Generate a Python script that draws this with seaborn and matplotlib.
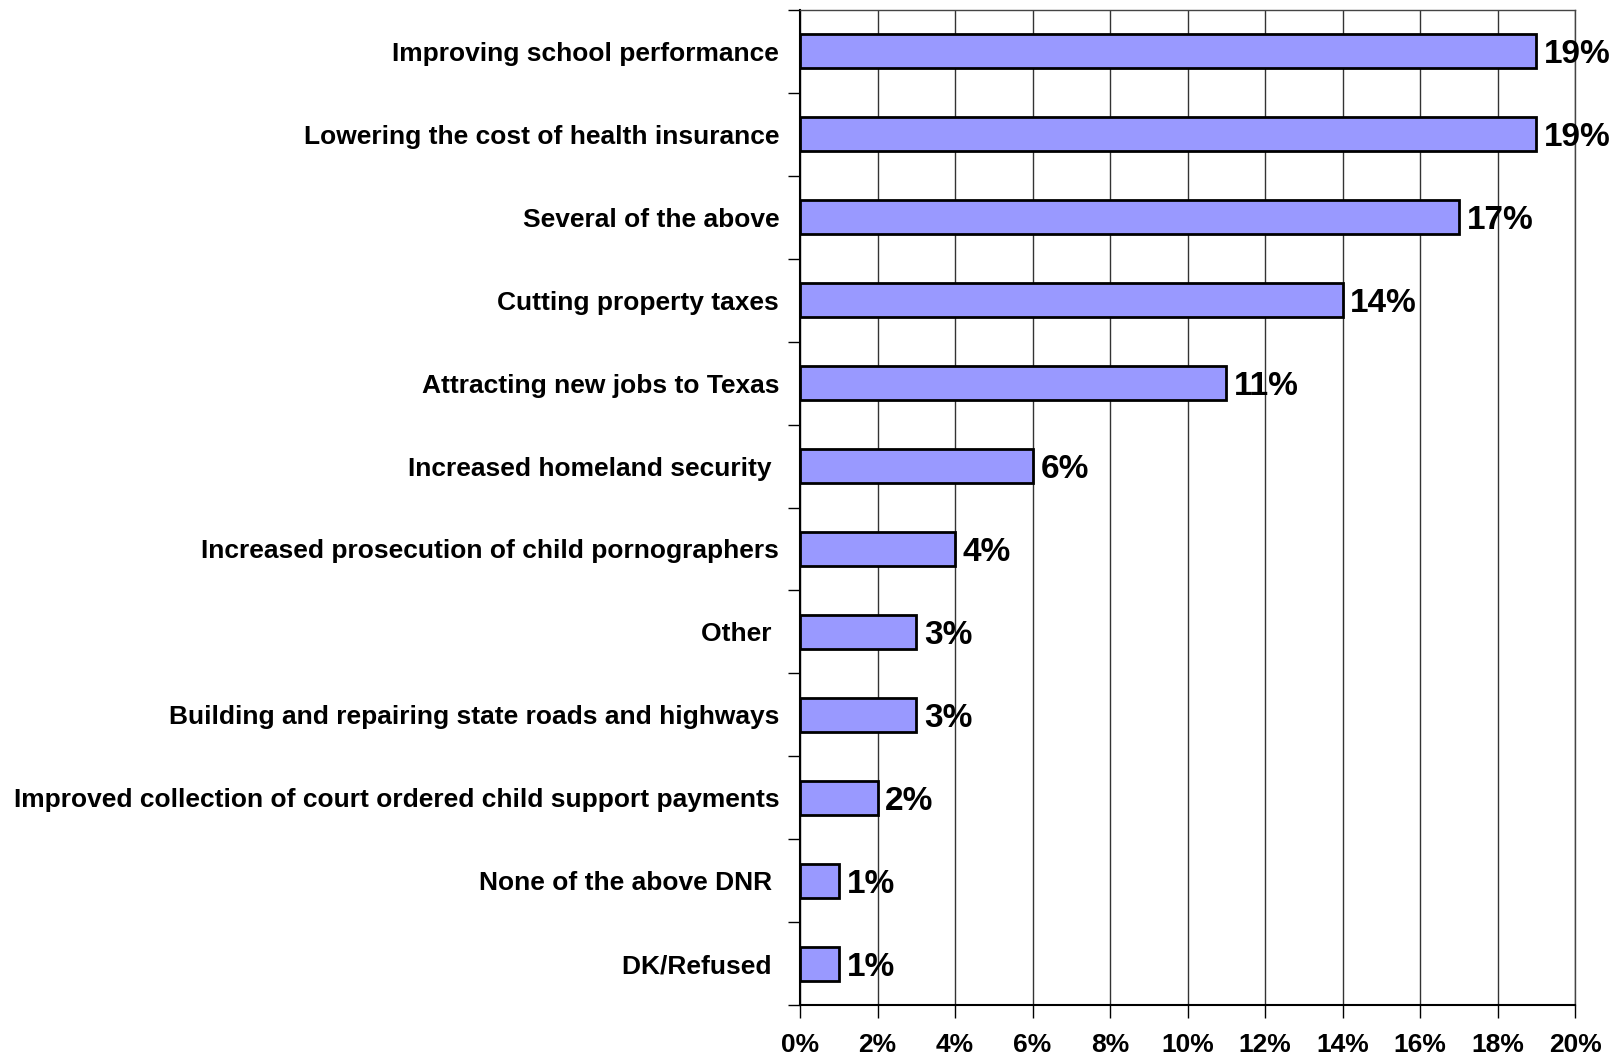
import matplotlib
matplotlib.use("Agg")
import matplotlib.pyplot as plt
import seaborn as sns
import pandas as pd
from matplotlib.ticker import FixedLocator

categories = [
    "Improving school performance",
    "Lowering the cost of health insurance",
    "Several of the above",
    "Cutting property taxes",
    "Attracting new jobs to Texas",
    "Increased homeland security ",
    "Increased prosecution of child pornographers",
    "Other ",
    "Building and repairing state roads and highways",
    "Improved collection of court ordered child support payments",
    "None of the above DNR ",
    "DK/Refused ",
]
values = [19, 19, 17, 14, 11, 6, 4, 3, 3, 2, 1, 1]
x_ticks = [0, 2, 4, 6, 8, 10, 12, 14, 16, 18, 20]

df = pd.DataFrame({"category": categories, "value": values})

sns.set_style("white")
plt.rcParams["font.family"] = ["Liberation Sans", "DejaVu Sans"]
plt.rcParams["text.color"] = "black"
plt.rcParams["xtick.color"] = "black"
plt.rcParams["ytick.color"] = "black"
plt.rcParams["xtick.labelcolor"] = "black"
plt.rcParams["ytick.labelcolor"] = "black"

fig = plt.figure(figsize=(16.17, 10.62), dpi=100)
ax = fig.add_axes([800 / 1617, 1 - 1005 / 1062, 775 / 1617, 995 / 1062])

sns.barplot(data=df, x="value", y="category", orient="h", color="#9999FF",
            saturation=1, edgecolor="black", linewidth=2, width=0.41, ax=ax, zorder=3)

ax.set_xlim(0, 20)
ax.set_ylim(len(categories) - 0.5, -0.5)
ax.xaxis.set_major_locator(FixedLocator(x_ticks))
ax.set_xticklabels([f"{t}%" for t in x_ticks], fontsize=19, fontweight="bold", color="black")
ax.grid(axis="x", color="#333333", linewidth=1, zorder=0)
ax.set_axisbelow(True)

ax.set_yticks(range(len(categories)))
ax.set_yticklabels(categories, fontsize=19, fontweight="bold", color="black")
ax.tick_params(axis="y", length=0, pad=15)
ax.yaxis.set_minor_locator(FixedLocator([i - 0.5 for i in range(len(categories) + 1)]))
ax.tick_params(axis="y", which="minor", length=9, width=1, color="black", left=True)
ax.tick_params(axis="x", which="major", length=9, width=1, color="black", bottom=True, pad=11)

ax.set_xlabel("")
ax.set_ylabel("")

for s in ["left", "bottom"]:
    ax.spines[s].set_color("black")
    ax.spines[s].set_linewidth(1.5)
for s in ["top", "right"]:
    ax.spines[s].set_color("#444444")
    ax.spines[s].set_linewidth(1)

for i, v in enumerate(values):
    ax.text(v + 0.2, i, f"{v}%", va="center_baseline", ha="left", fontsize=24,
            fontweight="bold", color="black", zorder=5, clip_on=False)

fig.savefig("out.png", dpi=100)
